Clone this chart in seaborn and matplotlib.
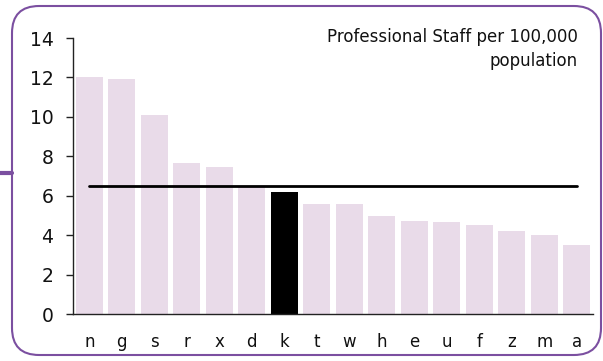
import matplotlib
matplotlib.use("Agg")
import matplotlib.pyplot as plt
from matplotlib.patches import FancyBboxPatch
from matplotlib.lines import Line2D
import seaborn as sns
import pandas as pd

categories = ["n", "g", "s", "r", "x", "d", "k", "t", "w", "h", "e", "u", "f", "z", "m", "a"]
staff_per_100k = [12.0, 11.9, 10.1, 7.65, 7.45, 6.45, 6.2, 5.6, 5.58, 4.98, 4.72, 4.67, 4.53, 4.2, 4.0, 3.5]
highlight = "k"
average_value = 6.5
yticks = [0, 2, 4, 6, 8, 10, 12, 14]
title_text = "Professional Staff per 100,000\npopulation"

sns.set_theme(style="white")
plt.rcParams["font.family"] = ["DejaVu Sans"]

df = pd.DataFrame({"area": categories, "value": staff_per_100k})
df["group"] = ["hl" if a == highlight else "other" for a in categories]
df["avg"] = average_value

fig = plt.figure(figsize=(6.03, 3.61), dpi=100)
ax = fig.add_axes([73 / 603, 1 - 314 / 361, 520 / 603, 276 / 361])

sns.barplot(data=df, x="area", y="value", hue="group",
            palette={"hl": "#000000", "other": "#EBD9EB"},
            width=0.83, dodge=False, legend=False, ax=ax, linewidth=0)
sns.lineplot(data=df, x="area", y="avg", color="black", linewidth=2, ax=ax)

ax.set_ylim(0, 14)
ax.set_xlim(-0.5, len(categories) - 0.5)
ax.set_yticks(yticks)
ax.set_xlabel("")
ax.set_ylabel("")
for side in ["top", "right"]:
    ax.spines[side].set_visible(False)
for side in ["left", "bottom"]:
    ax.spines[side].set_color("#222222")
    ax.spines[side].set_linewidth(1.0)
ax.tick_params(axis="y", which="both", left=True, length=5, width=1, color="#222222",
               labelsize=13.5, pad=9, labelcolor="#111111")
ax.tick_params(axis="x", bottom=False, labelsize=12, pad=8, labelcolor="#111111")

ax.text(0.97, 1.035, title_text, transform=ax.transAxes, ha="right", va="top",
        fontsize=12, color="#111111", linespacing=1.4)

# rounded frame around the chart
frame = FancyBboxPatch((12 / 603, 6 / 361), (601 - 12) / 603, (355 - 6) / 361,
                       boxstyle="round,pad=0,rounding_size=0.045",
                       transform=fig.transFigure, fill=False,
                       edgecolor="#7B4FA0", linewidth=1.5, mutation_aspect=603 / 361)
fig.patches.append(frame)
fig.lines.append(Line2D([0, 12 / 603], [1 - 172.5 / 361, 1 - 172.5 / 361],
                        transform=fig.transFigure, color="#7B4FA0", linewidth=3))

fig.savefig("out.png", dpi=100)
